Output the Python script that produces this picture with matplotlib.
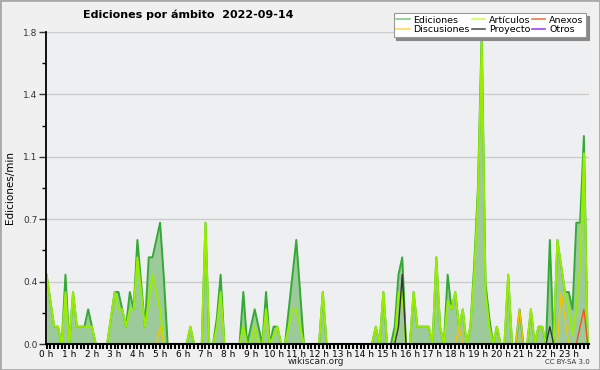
import matplotlib.pyplot as plt
from matplotlib.patches import Rectangle
from matplotlib.lines import Line2D
import numpy as np

plt.rcParams['font.family'] = ['DejaVu Sans']

# one value every 10 minutes, one row = 2 hours
hour_labels = [f'{h} h' for h in range(24)]

ediciones = [
    0.4, 0.25, 0.1, 0.1, 0, 0.4,    0, 0.3, 0.1, 0.1, 0.1, 0.2,
    0.1, 0, 0, 0, 0, 0.15,          0.3, 0.3, 0.2, 0.1, 0.3, 0.2,
    0.6, 0.35, 0.1, 0.5, 0.5, 0.6,  0.7, 0.38, 0, 0, 0, 0,
    0, 0, 0.1, 0, 0, 0,             0.7, 0, 0, 0.15, 0.4, 0,
    0, 0, 0, 0, 0.3, 0,             0.1, 0.2, 0.1, 0, 0.3, 0,
    0.1, 0.1, 0, 0, 0.2, 0.4,       0.6, 0.3, 0, 0, 0, 0,
    0, 0.3, 0, 0, 0, 0,             0, 0, 0, 0, 0, 0,
    0, 0, 0, 0.1, 0, 0.3,           0, 0, 0.1, 0.4, 0.5, 0,
    0, 0.3, 0.1, 0.1, 0.1, 0.1,     0, 0.5, 0.1, 0, 0.4, 0.2,
    0.3, 0.1, 0.2, 0, 0.1, 0.45,    0.9, 1.8, 0.35, 0.15, 0, 0.1,
    0, 0, 0.4, 0, 0, 0.2,           0, 0, 0.2, 0, 0.1, 0.1,
    0, 0.6, 0, 0.6, 0.45, 0.3,      0.3, 0.2, 0.7, 0.7, 1.2, 0,
]

articulos = [
    0.4, 0.25, 0.1, 0.1, 0, 0.3,    0, 0.3, 0.1, 0.1, 0.1, 0.1,
    0.1, 0, 0, 0, 0, 0.15,          0.3, 0.2, 0.2, 0.1, 0.2, 0.2,
    0.5, 0.3, 0.1, 0.25, 0.4, 0.3,  0.2, 0, 0, 0, 0, 0,
    0, 0, 0.1, 0, 0, 0,             0.7, 0, 0, 0.1, 0.3, 0,
    0, 0, 0, 0, 0.1, 0,             0, 0.1, 0, 0, 0.2, 0,
    0.05, 0.1, 0, 0, 0.1, 0.2,      0.2, 0.1, 0, 0, 0, 0,
    0, 0.3, 0, 0, 0, 0,             0, 0, 0, 0, 0, 0,
    0, 0, 0, 0.1, 0, 0.3,           0, 0, 0, 0.3, 0.3, 0,
    0, 0.3, 0.1, 0.1, 0.1, 0.1,     0, 0.5, 0.1, 0, 0.25, 0.2,
    0.3, 0.1, 0.2, 0, 0.1, 0.4,     0.85, 1.75, 0.3, 0.1, 0, 0.1,
    0, 0, 0.4, 0, 0, 0,             0, 0, 0.2, 0, 0.1, 0.1,
    0, 0, 0, 0.6, 0.45, 0.3,        0.2, 0.05, 0.2, 0.45, 1.1, 0,
]

discusiones = [0.0] * 144
discusiones[30] = 0.1
discusiones[109] = 0.1
discusiones[125] = 0.2
discusiones[136] = 0.3
discusiones[137] = 0.15

proyecto = [0.0] * 144
proyecto[93] = 0.1
proyecto[94] = 0.4
proyecto[133] = 0.1

anexos = [0.0] * 144
anexos[141] = 0.1
anexos[142] = 0.2

otros = [0.0] * 144

x = np.arange(len(ediciones))

fig = plt.figure(figsize=(6, 3.7), dpi=100, facecolor='#f0f0f0')
ax = fig.add_axes([46 / 600, 26 / 370, 543 / 600, 312 / 370])
ax.set_facecolor('#eeeff1')

ax.fill_between(x, ediciones, color='#9dca9b', lw=0, zorder=1)
ax.plot(x, ediciones, color='#33aa33', lw=1.4, zorder=2)
ax.plot(x, articulos, color='#99ee00', lw=1.4, zorder=2)
ax.plot(x, discusiones, color='#f5c400', lw=1.0, zorder=2)
ax.plot(x, proyecto, color='#333333', lw=1.0, zorder=2)
ax.plot(x, anexos, color='#ee5522', lw=1.0, zorder=2)
ax.plot(x, otros, color='#9933ff', lw=1.0, zorder=2)

ax.set_xlim(-0.15, 143.35)
ax.set_ylim(0, 1.8)

yt = np.linspace(0, 1.8, 6)
ax.set_yticks(yt)
ax.set_yticklabels([f'{v:.1f}' for v in yt])
ax.set_yticks((yt[:-1] + yt[1:]) / 2, minor=True)
ax.set_xticks(np.arange(0, 144, 6))
ax.set_xticklabels(hour_labels)
ax.set_xticks(np.arange(0, 144), minor=True)

ax.tick_params(axis='y', which='major', length=5, width=1, labelsize=6.5,
               colors='#333333', pad=1)
ax.tick_params(axis='y', which='minor', length=3, width=1)
ax.tick_params(axis='x', which='both', length=3.5, width=1.5, labelsize=6.5,
               pad=0.5)

ax.yaxis.grid(True, color='#cccccc', lw=1)
ax.set_axisbelow(True)
for s in ['top', 'right']:
    ax.spines[s].set_visible(False)
ax.spines['left'].set_linewidth(1.3)
ax.spines['bottom'].set_linewidth(1.5)
ax.spines['left'].set_zorder(3)
ax.spines['bottom'].set_zorder(3)

handles = [
    Line2D([], [], color='#88cc88', lw=1.2),
    Line2D([], [], color='#ffdd55', lw=1.2),
    Line2D([], [], color='#ccff55', lw=1.2),
    Line2D([], [], color='#555555', lw=1.2),
    Line2D([], [], color='#ee7744', lw=1.2),
    Line2D([], [], color='#9944ee', lw=1.2),
]
labels = ['Ediciones', 'Discusiones', 'Artículos', 'Proyecto', 'Anexos', 'Otros']
leg = fig.legend(handles, labels, ncol=3, loc='upper right',
                 bbox_to_anchor=(591 / 600, 1 - 8 / 370), fontsize=6.8,
                 frameon=True, fancybox=False, shadow={'color': '#888888', 'alpha': 1},
                 handlelength=1.4, handletextpad=0.4, columnspacing=0.2,
                 labelspacing=0.05, borderpad=0.3)
leg.get_frame().set_edgecolor('#999999')
leg.get_frame().set_linewidth(0.8)

fig.text(188 / 600, 1 - 15 / 370, 'Ediciones por ámbito  2022-09-14',
         fontsize=8, fontweight='bold', ha='center', va='center')
fig.text(10 / 600, 1 - 188 / 370, 'Ediciones/min', rotation=90,
         fontsize=7.5, ha='center', va='center')
fig.text(316 / 600, 1 - 362 / 370, 'wikiscan.org', fontsize=6.5,
         ha='center', va='center', color='#222222')
fig.text(590 / 600, 1 - 362 / 370, 'CC BY-SA 3.0', fontsize=5,
         ha='right', va='center', color='#333333')

fig.patches.append(Rectangle((0, 0), 1, 1, transform=fig.transFigure,
                             fill=False, edgecolor='#aaaaaa', lw=2))

fig.savefig('out.png', dpi=100, facecolor=fig.get_facecolor())
